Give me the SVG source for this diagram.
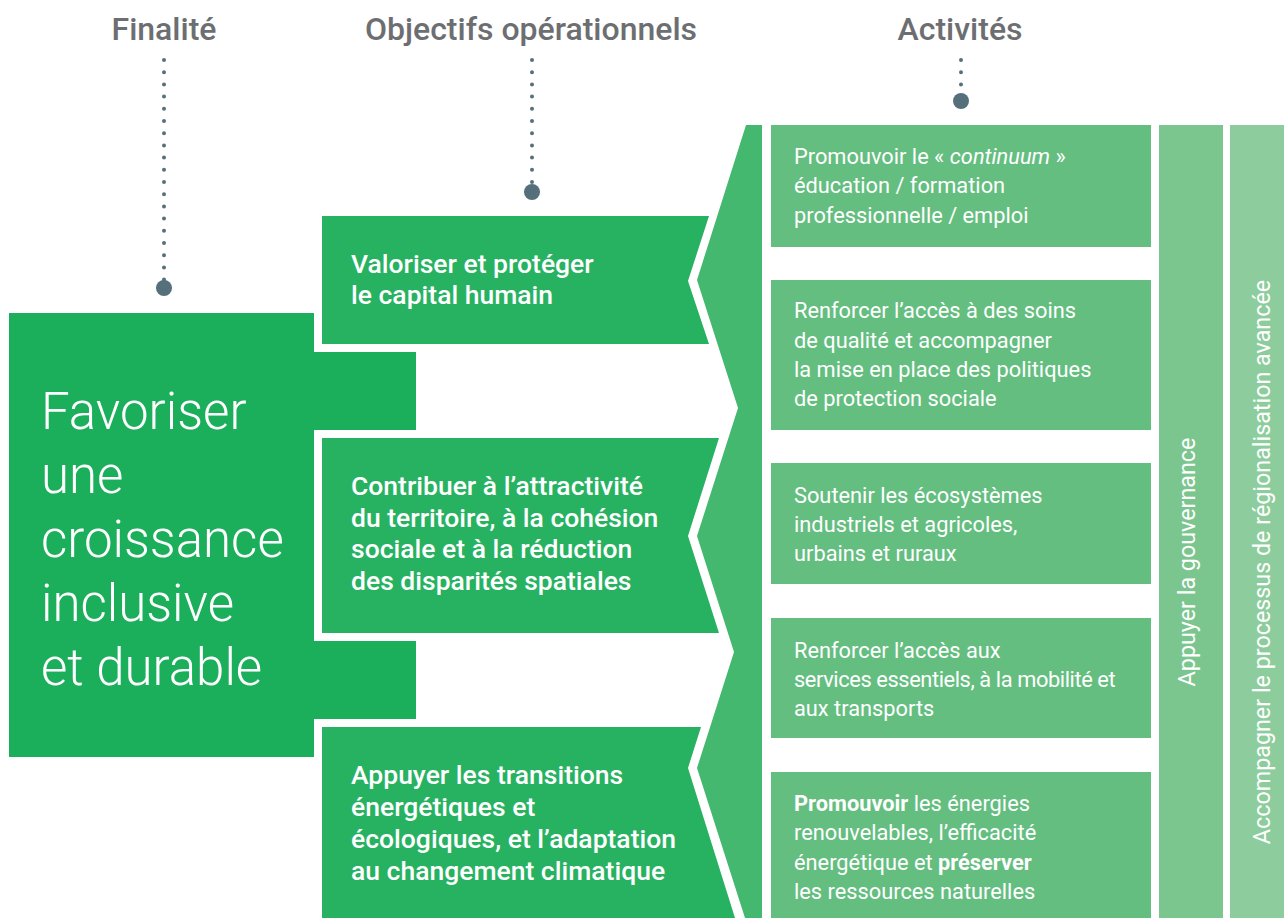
<svg xmlns="http://www.w3.org/2000/svg" width="1284" height="918" viewBox="0 0 1284 918">
<defs>
<style>
text{font-family:Roboto,"Liberation Sans",sans-serif;}
.hdr{font-size:32px;font-weight:500;fill:#6d6e71;text-anchor:middle;}
.dots{stroke:#55707a;stroke-width:4;stroke-linecap:round;stroke-dasharray:0 12.2;fill:none;}
.bigdot{fill:#55707a;}
.fin{fill:#1baf5b;}
.obj{fill:#27b262;}
.band{fill:#44b86f;}
.act{fill:#64be80;}
.col1{fill:#7bc68e;}
.col2{fill:#8dcd9d;}
.tfin{font-size:51px;font-weight:300;fill:#fff;}
.tobj{font-size:26.5px;font-weight:500;fill:#fff;}
.tact{font-size:21.8px;font-weight:400;fill:#fff;}
.tcol{font-size:23.3px;font-weight:400;fill:#fff;text-anchor:middle;}
</style>
</defs>
<rect width="1284" height="918" fill="#fff"/>

<g id="headers">
<text class="hdr" x="164" y="40">Finalité</text>
<text class="hdr" x="531" y="40">Objectifs opérationnels</text>
<text class="hdr" x="960" y="40">Activités</text>
</g>

<g id="connectors">
<line class="dots" x1="164" y1="60" x2="164" y2="280"/>
<circle class="bigdot" cx="164" cy="288" r="8"/>
<line class="dots" x1="532" y1="60" x2="532" y2="183"/>
<circle class="bigdot" cx="532" cy="192" r="8"/>
<line class="dots" x1="961" y1="60" x2="961" y2="88"/>
<circle class="bigdot" cx="961" cy="101" r="8"/>
</g>

<g id="finalite">
<polygon class="fin" points="9,313 314,313 314,352 416,352 416,430 314,430 314,641 416,641 416,719 314,719 314,757 9,757"/>
<text class="tfin" x="41"><tspan x="41" y="429">Favoriser</tspan><tspan x="41" y="493">une</tspan><tspan x="41" y="557">croissance</tspan><tspan x="41" y="621">inclusive</tspan><tspan x="41" y="685">et durable</tspan></text>
</g>

<g id="objectif1">
<polygon class="obj" points="322,216 709,216 688,281 709,344 322,344"/>
<text class="tobj"><tspan x="351" y="273">Valoriser et protéger</tspan><tspan x="351" y="304">le capital humain</tspan></text>
</g>

<g id="objectif2">
<polygon class="obj" points="322,438 719,438 688,536 719,633 322,633"/>
<text class="tobj"><tspan x="351" y="495">Contribuer à l’attractivité</tspan><tspan x="351" y="527">du territoire, à la cohésion</tspan><tspan x="351" y="558">sociale et à la réduction</tspan><tspan x="351" y="590">des disparités spatiales</tspan></text>
</g>

<g id="objectif3">
<polygon class="obj" points="322,727 701,727 688,768 735,918 322,918"/>
<text class="tobj"><tspan x="351" y="784">Appuyer les transitions</tspan><tspan x="351" y="816">énergétiques et</tspan><tspan x="351" y="848">écologiques, et l’adaptation</tspan><tspan x="351" y="880">au changement climatique</tspan></text>
</g>

<g id="band">
<polygon class="band" points="746,125 762,125 762,918 745,918 697,768 734,652 697,536 738,408 697,280"/>
</g>

<g id="activite1">
<rect class="act" x="771" y="125" width="380" height="122"/>
<text class="tact"><tspan x="794" y="164">Promouvoir le « <tspan font-style="italic">continuum</tspan> »</tspan><tspan x="794" y="193">éducation / formation</tspan><tspan x="794" y="223">professionnelle / emploi</tspan></text>
</g>

<g id="activite2">
<rect class="act" x="771" y="280" width="380" height="150"/>
<text class="tact"><tspan x="794" y="318">Renforcer l’accès à des soins</tspan><tspan x="794" y="348">de qualité et accompagner</tspan><tspan x="794" y="377">la mise en place des politiques</tspan><tspan x="794" y="406">de protection sociale</tspan></text>
</g>

<g id="activite3">
<rect class="act" x="771" y="463" width="380" height="121"/>
<text class="tact"><tspan x="794" y="503">Soutenir les écosystèmes</tspan><tspan x="794" y="532">industriels et agricoles,</tspan><tspan x="794" y="561">urbains et ruraux</tspan></text>
</g>

<g id="activite4">
<rect class="act" x="771" y="618" width="380" height="120"/>
<text class="tact"><tspan x="794" y="658">Renforcer l’accès aux</tspan><tspan x="794" y="687" letter-spacing="-0.4">services essentiels, à la mobilité et</tspan><tspan x="794" y="716">aux transports</tspan></text>
</g>

<g id="activite5">
<rect class="act" x="771" y="772" width="380" height="146"/>
<text class="tact"><tspan x="794" y="811"><tspan font-weight="700">Promouvoir</tspan> les énergies</tspan><tspan x="794" y="840">renouvelables, l’efficacité</tspan><tspan x="794" y="870">énergétique et <tspan font-weight="700">préserver</tspan></tspan><tspan x="794" y="899">les ressources naturelles</tspan></text>
</g>

<g id="gouvernance">
<rect class="col1" x="1159" y="125" width="64" height="793"/>
<text class="tcol" transform="translate(1195,562) rotate(-90)">Appuyer la gouvernance</text>
</g>

<g id="regionalisation">
<rect class="col2" x="1230" y="125" width="54" height="793"/>
<text class="tcol" transform="translate(1270,562) rotate(-90)">Accompagner le processus de régionalisation avancée</text>
</g>
</svg>
